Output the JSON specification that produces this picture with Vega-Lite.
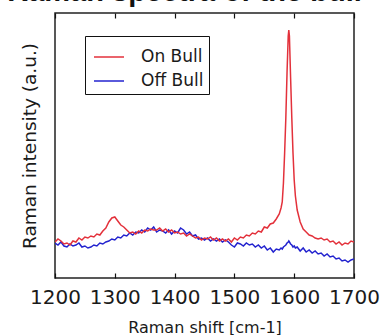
{
  "$schema": "https://vega.github.io/schema/vega-lite/v6.json",
  "width": 299,
  "height": 265,
  "autosize": {"type": "none"},
  "padding": {"left": 55, "top": 13, "right": 26, "bottom": 57},
  "background": "white",
  "title": {"text": "Raman spectra of the bull", "font": "Liberation Sans", "fontSize": 29, "fontWeight": "bold", "color": "#111", "baseline": "alphabetic", "offset": -18, "dx": -20},
  "data": {"values": [
    {"x":1200,"On Bull":36,"Off Bull":35},{"x":1205,"On Bull":39,"Off Bull":33},{"x":1210,"On Bull":37,"Off Bull":36},{"x":1215,"On Bull":34,"Off Bull":32},
    {"x":1220,"On Bull":35,"Off Bull":31},{"x":1225,"On Bull":33,"Off Bull":34},{"x":1230,"On Bull":37,"Off Bull":32},{"x":1235,"On Bull":36,"Off Bull":33},
    {"x":1240,"On Bull":40,"Off Bull":35},{"x":1245,"On Bull":38,"Off Bull":31},{"x":1250,"On Bull":41,"Off Bull":32},{"x":1255,"On Bull":40,"Off Bull":30},
    {"x":1260,"On Bull":42,"Off Bull":31},{"x":1265,"On Bull":41,"Off Bull":33},{"x":1270,"On Bull":44,"Off Bull":32},{"x":1275,"On Bull":43,"Off Bull":35},
    {"x":1280,"On Bull":47,"Off Bull":34},{"x":1285,"On Bull":50,"Off Bull":36},{"x":1290,"On Bull":56,"Off Bull":37},{"x":1295,"On Bull":60,"Off Bull":39},
    {"x":1300,"On Bull":61,"Off Bull":38},{"x":1305,"On Bull":57,"Off Bull":41},{"x":1310,"On Bull":53,"Off Bull":40},{"x":1315,"On Bull":51,"Off Bull":43},
    {"x":1320,"On Bull":48,"Off Bull":42},{"x":1325,"On Bull":45,"Off Bull":45},{"x":1330,"On Bull":46,"Off Bull":43},{"x":1335,"On Bull":44,"Off Bull":46},
    {"x":1340,"On Bull":47,"Off Bull":45},{"x":1345,"On Bull":45,"Off Bull":48},{"x":1350,"On Bull":48,"Off Bull":46},{"x":1355,"On Bull":47,"Off Bull":50},
    {"x":1360,"On Bull":49,"Off Bull":48},{"x":1365,"On Bull":48,"Off Bull":51},{"x":1370,"On Bull":48,"Off Bull":46},{"x":1375,"On Bull":50,"Off Bull":48},
    {"x":1380,"On Bull":47,"Off Bull":47},{"x":1385,"On Bull":49,"Off Bull":45},{"x":1390,"On Bull":46,"Off Bull":48},{"x":1395,"On Bull":48,"Off Bull":44},
    {"x":1400,"On Bull":45,"Off Bull":47},{"x":1405,"On Bull":46,"Off Bull":45},{"x":1410,"On Bull":44,"Off Bull":50},{"x":1415,"On Bull":45,"Off Bull":48},
    {"x":1420,"On Bull":42,"Off Bull":44},{"x":1425,"On Bull":44,"Off Bull":46},{"x":1430,"On Bull":42,"Off Bull":42},{"x":1435,"On Bull":40,"Off Bull":43},
    {"x":1440,"On Bull":41,"Off Bull":39},{"x":1445,"On Bull":38,"Off Bull":40},{"x":1450,"On Bull":40,"Off Bull":38},{"x":1455,"On Bull":39,"Off Bull":40},
    {"x":1460,"On Bull":41,"Off Bull":37},{"x":1465,"On Bull":38,"Off Bull":39},{"x":1470,"On Bull":40,"Off Bull":37},{"x":1475,"On Bull":37,"Off Bull":39},
    {"x":1480,"On Bull":39,"Off Bull":36},{"x":1485,"On Bull":37,"Off Bull":38},{"x":1490,"On Bull":39,"Off Bull":36},{"x":1495,"On Bull":36,"Off Bull":33},
    {"x":1500,"On Bull":40,"Off Bull":31},{"x":1505,"On Bull":38,"Off Bull":35},{"x":1510,"On Bull":41,"Off Bull":34},{"x":1515,"On Bull":40,"Off Bull":32},
    {"x":1520,"On Bull":43,"Off Bull":35},{"x":1525,"On Bull":42,"Off Bull":33},{"x":1530,"On Bull":45,"Off Bull":34},{"x":1535,"On Bull":44,"Off Bull":31},
    {"x":1540,"On Bull":47,"Off Bull":33},{"x":1545,"On Bull":46,"Off Bull":30},{"x":1550,"On Bull":51,"Off Bull":32},{"x":1555,"On Bull":50,"Off Bull":28},
    {"x":1560,"On Bull":54,"Off Bull":30},{"x":1565,"On Bull":55,"Off Bull":26},{"x":1570,"On Bull":59,"Off Bull":29},{"x":1575,"On Bull":64,"Off Bull":28},
    {"x":1578,"On Bull":70,"Off Bull":30},{"x":1580,"On Bull":76,"Off Bull":29},{"x":1582,"On Bull":95,"Off Bull":31},{"x":1584,"On Bull":125,"Off Bull":32},
    {"x":1586,"On Bull":160,"Off Bull":33},{"x":1588,"On Bull":205,"Off Bull":35},{"x":1590,"On Bull":242,"Off Bull":36},{"x":1591,"On Bull":248,"Off Bull":37},
    {"x":1592,"On Bull":242,"Off Bull":36},{"x":1594,"On Bull":200,"Off Bull":34},{"x":1596,"On Bull":160,"Off Bull":33},{"x":1598,"On Bull":125,"Off Bull":31},
    {"x":1600,"On Bull":98,"Off Bull":32},{"x":1602,"On Bull":82,"Off Bull":30},{"x":1605,"On Bull":68,"Off Bull":31},{"x":1610,"On Bull":56,"Off Bull":27},
    {"x":1615,"On Bull":49,"Off Bull":30},{"x":1620,"On Bull":46,"Off Bull":26},{"x":1625,"On Bull":43,"Off Bull":28},{"x":1630,"On Bull":42,"Off Bull":25},
    {"x":1635,"On Bull":40,"Off Bull":27},{"x":1640,"On Bull":39,"Off Bull":24},{"x":1645,"On Bull":40,"Off Bull":25},{"x":1650,"On Bull":38,"Off Bull":22},
    {"x":1655,"On Bull":39,"Off Bull":24},{"x":1660,"On Bull":36,"Off Bull":21},{"x":1665,"On Bull":37,"Off Bull":22},{"x":1670,"On Bull":34,"Off Bull":19},
    {"x":1675,"On Bull":36,"Off Bull":20},{"x":1680,"On Bull":33,"Off Bull":17},{"x":1685,"On Bull":35,"Off Bull":18},{"x":1690,"On Bull":34,"Off Bull":16},
    {"x":1695,"On Bull":37,"Off Bull":18},{"x":1700,"On Bull":36,"Off Bull":19}
  ]},
  "transform": [{"fold": ["Off Bull", "On Bull"], "as": ["series", "v"]}],
  "layer": [
    {
      "mark": {"type": "line", "strokeWidth": 1.5, "clip": true},
      "encoding": {
        "x": {"field": "x", "type": "quantitative", "scale": {"domain": [1200, 1700], "nice": false, "zero": false},
          "axis": {"orient": "bottom", "values": [1200, 1300, 1400, 1500, 1600, 1700], "format": "d", "labelFont": "DejaVu Sans", "labelFontSize": 20, "labelColor": "#1a1a1a", "labelOverlap": false, "labelFlush": false, "labelPadding": 14, "tickSize": -5, "tickColor": "#111", "tickWidth": 1.2, "domain": false, "grid": false, "title": "Raman shift [cm-1]", "titleFont": "DejaVu Sans", "titleFontSize": 16, "titleFontWeight": "normal", "titleColor": "#1a1a1a", "titlePadding": 12}},
        "y": {"field": "v", "type": "quantitative", "scale": {"domain": [0, 265], "nice": false},
          "axis": {"title": "Raman intensity (a.u.)", "labels": false, "ticks": false, "domain": false, "grid": false, "titleFont": "DejaVu Sans", "titleFontSize": 18.5, "titleFontWeight": "normal", "titleColor": "#1a1a1a", "titlePadding": 16}},
        "color": {"field": "series", "type": "nominal", "scale": {"domain": ["On Bull", "Off Bull"], "range": ["#e3313b", "#2323cf"]},
          "legend": {"orient": "none", "legendX": 30, "legendY": 23, "title": null, "strokeColor": "#111", "fillColor": "white", "padding": 5, "symbolOffset": 3, "symbolType": "stroke", "symbolSize": 900, "symbolStrokeWidth": 1.5, "labelFont": "DejaVu Sans", "labelFontSize": 17, "labelColor": "#1a1a1a", "labelOffset": 16, "rowPadding": 0, "labelExpr": "datum.label + '\u00a0\u00a0\u00a0\u00a0'"}},
        "order": {"field": "series", "sort": "ascending"}
      }
    },
    {
      "mark": {"type": "line", "opacity": 0},
      "encoding": {
        "x": {"field": "x", "type": "quantitative",
          "axis": {"orient": "top", "values": [1200, 1300, 1400, 1500, 1600, 1700], "labels": false, "tickSize": -5, "tickColor": "#111", "tickWidth": 1.2, "domain": false, "grid": false, "title": null}},
        "y": {"field": "v", "type": "quantitative",
          "axis": {"title": "Raman intensity (a.u.)", "labels": false, "ticks": false, "domain": false, "grid": false, "titleFont": "DejaVu Sans", "titleFontSize": 18.5, "titleFontWeight": "normal", "titleColor": "#1a1a1a", "titlePadding": 16}},
        "detail": {"field": "series"}
      }
    }
  ],
  "config": {"view": {"stroke": "#222", "strokeWidth": 1.5}}
}
